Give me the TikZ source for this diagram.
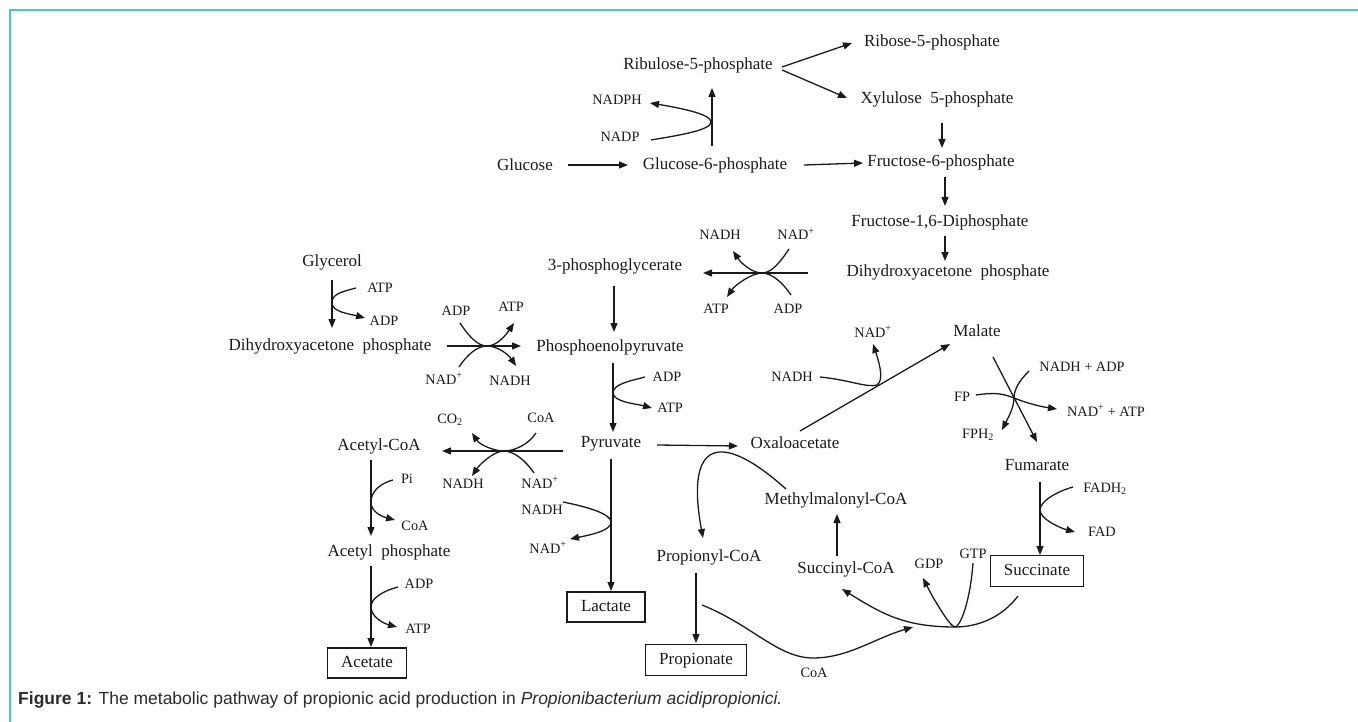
\documentclass[tikz,border=0pt]{standalone}
\usepackage{fontspec}
\setmainfont{Liberation Serif}
\newfontfamily\capfont{Liberation Sans}
\usetikzlibrary{arrows.meta,calc}
\definecolor{frameteal}{RGB}{72,204,186}
\definecolor{ink}{HTML}{1A1A1A}
\definecolor{captxt}{HTML}{2B2B2B}
\tikzset{
 met/.style={font=\fontsize{17}{20}\selectfont, inner sep=0pt, text=ink, text height=11pt, text depth=2pt},
 cof/.style={font=\fontsize{14.3}{17}\selectfont, inner sep=0pt, text=ink, text height=9.5pt, text depth=1.5pt},
 endbox/.style={met, draw=ink, line width=1.1pt, minimum height=30pt},
 arr/.style={-{Triangle[length=9pt,width=7pt]}, line width=1.3pt, draw=ink},
}
\begin{document}
\begin{tikzpicture}[x=1pt,y=-1pt]
\useasboundingbox (0,0) rectangle (1358,722);
\draw[frameteal, line width=2pt] (9.5,722) -- (9.5,10.5) -- (1358,10.5);

% ---------- nodes ----------
\node[met] (rib5p) at (932,42) {Ribose-5-phosphate};
\node[met] (ru5p) at (698,65) {Ribulose-5-phosphate};
\node[met] (xu5p) at (937,99) {Xylulose\ \ 5-phosphate};
\node[met] (f6p) at (941,162) {Fructose-6-phosphate};
\node[met] (glc) at (525,166) {Glucose};
\node[met] (g6p) at (715,165) {Glucose-6-phosphate};
\node[cof] (nadph) at (617,101) {NADPH};
\node[cof] (nadp) at (620,138) {NADP};
\node[met] (f16p) at (940,222) {Fructose-1,6-Diphosphate};
\node[met] (dhapr) at (948,272) {Dihydroxyacetone\ \ phosphate};
\node[met] (pg3) at (615,266) {3-phosphoglycerate};
\node[cof] (rnadh) at (720,236) {NADH};
\node[cof] (rnad) at (796,236) {NAD\textsuperscript{+}};
\node[cof] (ratp) at (716,309) {ATP};
\node[cof] (radp) at (788,309) {ADP};
\node[met] (gly) at (332,262) {Glycerol};
\node[cof] (gatp) at (380,288) {ATP};
\node[cof] (gadp) at (384,321) {ADP};
\node[met] (dhapl) at (330,346) {Dihydroxyacetone\ \ phosphate};
\node[cof] (cadp) at (456,311) {ADP};
\node[cof] (catp) at (511,308) {ATP};
\node[cof] (cnad) at (444,380) {NAD\textsuperscript{+}};
\node[cof] (cnadh) at (510,381) {NADH};
\node[met] (pep) at (610,347) {Phosphoenolpyruvate};
\node[cof] (padp) at (667,377) {ADP};
\node[cof] (patp) at (670,408) {ATP};
\node[met] (pyr) at (611,443) {Pyruvate};
\node[cof] (aco2) at (450,419) {CO\textsubscript{2}};
\node[cof] (acoa) at (541,418) {CoA};
\node[cof] (anadh) at (463,484) {NADH};
\node[cof] (anad) at (540,484) {NAD\textsuperscript{+}};
\node[met] (accoa) at (379,446) {Acetyl-CoA};
\node[cof] (lnadh) at (542,510) {NADH};
\node[cof] (lnad) at (548,549) {NAD\textsuperscript{+}};
\node[endbox, minimum width=78pt] (lac) at (606,607) {Lactate};
\node[cof] (pi) at (407,479) {Pi};
\node[cof] (pcoa) at (415,526) {CoA};
\node[met] (acp) at (389,552) {Acetyl\ \ phosphate};
\node[cof] (aadp) at (419,584) {ADP};
\node[cof] (aatp) at (418,629) {ATP};
\node[endbox, minimum width=79pt] (ace) at (367,663) {Acetate};
\node[met] (oaa) at (795,444) {Oxaloacetate};
\node[met] (mal) at (977,332) {Malate};
\node[cof] (mnad) at (873,333) {NAD\textsuperscript{+}};
\node[cof] (mnadh) at (792,377) {NADH};
\node[cof] (nadhadp) at (1082,367) {NADH + ADP};
\node[cof] (fp) at (962,397) {FP};
\node[cof] (nadatp) at (1106,412) {NAD\textsuperscript{+} + ATP};
\node[cof] (fph2) at (978,434) {FPH\textsubscript{2}};
\node[met] (fum) at (1037,466) {Fumarate};
\node[cof] (fadh2) at (1105,488) {FADH\textsubscript{2}};
\node[cof] (fad) at (1102,532) {FAD};
\node[endbox, minimum width=93pt, minimum height=31pt] (suc) at (1037,571) {Succinate};
\node[met] (mmcoa) at (836,500) {Methylmalonyl-CoA};
\node[met] (propcoa) at (709,557) {Propionyl-CoA};
\node[met] (succoa) at (846,569) {Succinyl-CoA};
\node[endbox, minimum width=101pt, minimum height=31pt] (prop) at (696,660) {Propionate};
\node[cof] (bcoa) at (814,673) {CoA};
\node[cof] (gdp) at (929,564) {GDP};
\node[cof] (gtp) at (973,554) {GTP};

\node[anchor=west, inner sep=0pt, text=captxt, font=\capfont\fontsize{17.5}{20}\selectfont] (cap) at (18,700)
 {\textbf{Figure 1:} The metabolic pathway of propionic acid production in \textit{Propionibacterium acidipropionici.}};

% ---------- touch / crossing points ----------
\coordinate (tnadp) at (711,122);
\coordinate (xr) at (762,273);
\coordinate (tgly) at (332,303);
\coordinate (xc) at (487,346);
\coordinate (tpep) at (613,393);
\coordinate (xa) at (504,451);
\coordinate (tlac) at (611,522);
\coordinate (tpi) at (371,502);
\coordinate (tadp) at (371,607);
\coordinate (tmal) at (877,385);
\coordinate (xf) at (1014,398);
\coordinate (tfum) at (1040,510);
\coordinate (colow) at (813,658);
\coordinate (coend) at (913,627);
\coordinate (sulow) at (955,627);

% ---------- main arrows ----------
\draw[arr] ($(ru5p)+(84,2)$) -- ($(rib5p)+(-80,1)$);
\draw[arr] ($(ru5p)+(84,5)$) -- ($(xu5p)+(-90,-1)$);
\draw[arr] ($(glc)+(43,-1)$) -- ($(g6p)+(-87,0)$);
\draw[arr] ($(g6p)+(89,0)$) -- ($(f6p)+(-78,1)$);
\draw[arr] ($(g6p)+(-3,-19)$) -- ($(ru5p)+(14,23)$);
\draw[arr] ($(xu5p)+(5,24)$) -- ($(f6p)+(1,-14)$);
\draw[arr] ($(f6p)+(4,15)$) -- ($(f16p)+(5,-16)$);
\draw[arr] ($(f16p)+(5,14)$) -- ($(dhapr)+(-3,-11)$);
\draw[arr] ($(dhapr)+(-140,1)$) -- ($(pg3)+(88,7)$);
\draw[arr] ($(pg3)+(-1,20)$) -- ($(pep)+(4,-15)$);
\draw[arr] ($(gly)+(0,18)$) -- ($(dhapl)+(2,-18)$);
\draw[arr] ($(dhapl)+(117,0)$) -- ($(pep)+(-89,-1)$);
\draw[arr] ($(pep)+(3,16)$) -- ($(pyr)+(2,-11)$);
\draw[arr] ($(pyr)+(-48,8)$) -- ($(accoa)+(63,5)$);
\draw[arr] ($(pyr)+(0,16)$) -- ($(lac)+(5,-16)$);
\draw[arr] ($(accoa)+(-8,14)$) -- ($(acp)+(-18,-16)$);
\draw[arr] ($(acp)+(-18,14)$) -- ($(ace)+(4,-16)$);
\draw[arr] ($(pyr)+(46,2)$) -- ($(oaa)+(-57,2)$);
\draw[arr] ($(oaa)+(5,-13)$) -- ($(mal)+(-27,12)$);
\draw[arr] ($(mal)+(16,25)$) -- ($(fum)+(0,-24)$);
\draw[arr] ($(fum)+(3,16)$) -- ($(suc)+(3,-16)$);
\draw[arr] ($(succoa)+(-9,-13)$) -- ($(mmcoa)+(1,14)$);
\draw[arr] ($(propcoa)+(-13,16)$) -- ($(prop)+(0,-17)$);
\draw[arr] ($(mmcoa)+(-50,-11)$) .. controls +(-66,-59) and +(-18,-98) .. ($(propcoa)+(-6,-19)$);

% ---------- cofactor arcs ----------
\draw[arr] ($(nadp)+(31,2)$) .. controls +(30,-5) and +(0,8) .. (tnadp) .. controls +(0,-8) and +(30,5) .. ($(nadph)+(33,2)$);
\draw[arr] ($(rnad)+(-7,13)$) .. controls +(-8,12) and +(10,0) .. (xr) .. controls +(-10,0) and +(8,12) .. ($(rnadh)+(13,15)$);
\draw[arr] ($(radp)+(3,-14)$) .. controls +(-8,-12) and +(10,0) .. (xr) .. controls +(-10,0) and +(8,-12) .. ($(ratp)+(11,-12)$);
\draw[arr] ($(gatp)+(-24,0)$) .. controls +(-15,4) and +(0,-9) .. (tgly) .. controls +(0,9) and +(-15,-4) .. ($(gadp)+(-19,-3)$);
\draw[arr] ($(cadp)+(4,12)$) .. controls +(8,12) and +(-10,0) .. (xc) .. controls +(10,0) and +(-8,12) .. ($(catp)+(3,15)$);
\draw[arr] ($(cnad)+(15,-13)$) .. controls +(8,-12) and +(-10,0) .. (xc) .. controls +(10,0) and +(-8,-12) .. ($(cnadh)+(6,-15)$);
\draw[arr] ($(padp)+(-22,0)$) .. controls +(-15,4) and +(0,-9) .. (tpep) .. controls +(0,9) and +(-15,-4) .. ($(patp)+(-18,0)$);
\draw[arr] ($(acoa)+(-5,15)$) .. controls +(-8,12) and +(10,0) .. (xa) .. controls +(-10,0) and +(8,12) .. ($(aco2)+(22,14)$);
\draw[arr] ($(anad)+(-6,-11)$) .. controls +(-8,-12) and +(10,0) .. (xa) .. controls +(-10,0) and +(8,-12) .. ($(anadh)+(9,-8)$);
\draw[arr] ($(lnadh)+(21,-8)$) .. controls +(25,5) and +(0,-8) .. (tlac) .. controls +(0,8) and +(25,-5) .. ($(lnad)+(22,-10)$);
\draw[arr] ($(pi)+(-14,1)$) .. controls +(-15,4) and +(0,-9) .. (tpi) .. controls +(0,9) and +(-15,-4) .. ($(pcoa)+(-20,-6)$);
\draw[arr] ($(aadp)+(-21,3)$) .. controls +(-15,4) and +(0,-9) .. (tadp) .. controls +(0,9) and +(-15,-4) .. ($(aatp)+(-21,-2)$);
\draw[arr] ($(mnadh)+(28,0)$) .. controls +(30,3) and +(-10,3) .. (tmal) .. controls +(8,-5) and +(5,15) .. ($(mnad)+(0,11)$);
\draw[arr] ($(fp)+(14,-2)$) .. controls +(20,-3) and +(-10,-4) .. (xf) .. controls +(10,4) and +(-20,-3) .. ($(nadatp)+(-49,-3)$);
\draw[arr] ($(nadhadp)+(-53,4)$) .. controls +(-8,8) and +(0,-10) .. (xf) .. controls +(0,10) and +(5,-10) .. ($(fph2)+(24,-4)$);
\draw[arr] ($(fadh2)+(-32,-1)$) .. controls +(-15,4) and +(0,-9) .. (tfum) .. controls +(0,9) and +(-15,-4) .. ($(fad)+(-27,0)$);
\draw[arr] ($(propcoa)+(-7,48)$) .. controls +(50,20) and +(-35,0) .. (colow) .. controls +(35,0) and +(-40,12) .. (coend);
\draw[arr] ($(suc)+(-19,25)$) .. controls +(-15,20) and +(25,0) .. (sulow) .. controls +(-50,0) and +(40,25) .. ($(succoa)+(-4,20)$);
\draw[arr] ($(gtp)+(0,9)$) .. controls +(-3,40) and +(5,0) .. (sulow) .. controls +(-5,0) and +(10,20) .. ($(gdp)+(-6,14)$);
\end{tikzpicture}
\end{document}
